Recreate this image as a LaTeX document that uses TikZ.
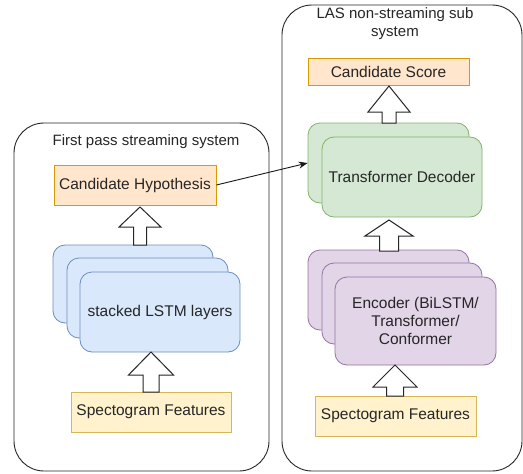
\documentclass[tikz,border=0pt]{standalone}
\usepackage{fontspec}
\setmainfont{Liberation Sans}
\usetikzlibrary{arrows.meta}
\definecolor{orfill}{HTML}{FFE6CC}\definecolor{ordraw}{HTML}{D79B00}
\definecolor{yefill}{HTML}{FFF2CC}\definecolor{yedraw}{HTML}{D6B656}
\definecolor{blfill}{HTML}{DAE8FC}\definecolor{bldraw}{HTML}{6C8EBF}
\definecolor{grfill}{HTML}{D5E8D4}\definecolor{grdraw}{HTML}{82B366}
\definecolor{pufill}{HTML}{E1D5E7}\definecolor{pudraw}{HTML}{9673A6}
\newcommand\blockarr[6]{%
  \draw[blockarrow] (#1,#2) -- (#1+#5,#3) -- (#1+#6,#3) -- (#1+#6,#4) -- (#1-#6,#4) -- (#1-#6,#3) -- (#1-#5,#3) -- cycle;}
\tikzset{
  box/.style={draw, line width=0.8pt, inner sep=0pt, font=\fontsize{15.5}{18}\selectfont, text=black!85},
  container/.style={draw=black!85, line width=0.9pt, rounded corners=30pt, fill=white},
  layer/.style={box, rounded corners=12pt},
  blockarrow/.style={draw=black!85, line width=1pt, fill=white},
  title/.style={font=\fontsize{15}{18}\selectfont, text=black!85, inner sep=0pt}
}
\begin{document}
\begin{tikzpicture}[x=1pt,y=-1pt]
\useasboundingbox (0,0) rectangle (523,474);
% containers
\draw[container] (14,123) rectangle (269,471);
\draw[container] (282,5) rectangle (522,471);
\node[title] (ltitle) at (146,142) {First pass streaming system};
\node[title, align=center] (rtitle) at (395,24) {LAS non-streaming sub\\system};
% left column
\node[box, fill=orfill, draw=ordraw, minimum width=162pt, minimum height=40pt] (hyp) at (135,185) {Candidate Hypothesis};
\node[layer, fill=blfill, draw=bldraw, minimum width=160pt, minimum height=78pt] (lstmA) at (133,284) {};
\node[layer, fill=blfill, draw=bldraw, minimum width=161pt, minimum height=80pt] (lstmB) at (147.5,298) {};
\node[layer, fill=blfill, draw=bldraw, minimum width=160pt, minimum height=80pt] (lstmC) at (160,312) {stacked LSTM layers};
\node[box, fill=yefill, draw=yedraw, minimum width=160pt, minimum height=40pt] (specL) at (151,412) {Spectogram Features};
% right column
\node[box, fill=orfill, draw=ordraw, minimum width=161pt, minimum height=27pt] (score) at (388.5,71.5) {Candidate Score};
\node[layer, fill=grfill, draw=grdraw, minimum width=161pt, minimum height=80pt] (tdA) at (388.5,163) {};
\node[layer, fill=grfill, draw=grdraw, minimum width=160pt, minimum height=80pt] (tdB) at (402,177) {Transformer Decoder};
\node[layer, fill=pufill, draw=pudraw, minimum width=161pt, minimum height=80pt] (encA) at (388.5,290) {};
\node[layer, fill=pufill, draw=pudraw, minimum width=160pt, minimum height=81pt] (encB) at (402,303.5) {};
\node[layer, fill=pufill, draw=pudraw, minimum width=161pt, minimum height=88pt, align=center] (encC) at (415.5,321) {Encoder (BiLSTM/\\Transformer/\\Conformer};
\node[box, fill=yefill, draw=yedraw, minimum width=161pt, minimum height=40pt] (specR) at (395.5,416) {Spectogram Features};
% block arrows
\blockarr{140}{207}{227}{245}{21}{6.5}
\blockarr{151}{352}{375}{392}{22.5}{8}
\blockarr{389}{86}{112}{123}{21}{7}
\blockarr{389}{220}{236}{251}{24}{9.5}
\blockarr{395}{365}{387}{396}{22}{8.5}
% connector
\draw[line width=0.9pt, black!90, -{Stealth[length=9pt,width=7pt]}] (hyp.east) -- (tdA.west);
\end{tikzpicture}
\end{document}
